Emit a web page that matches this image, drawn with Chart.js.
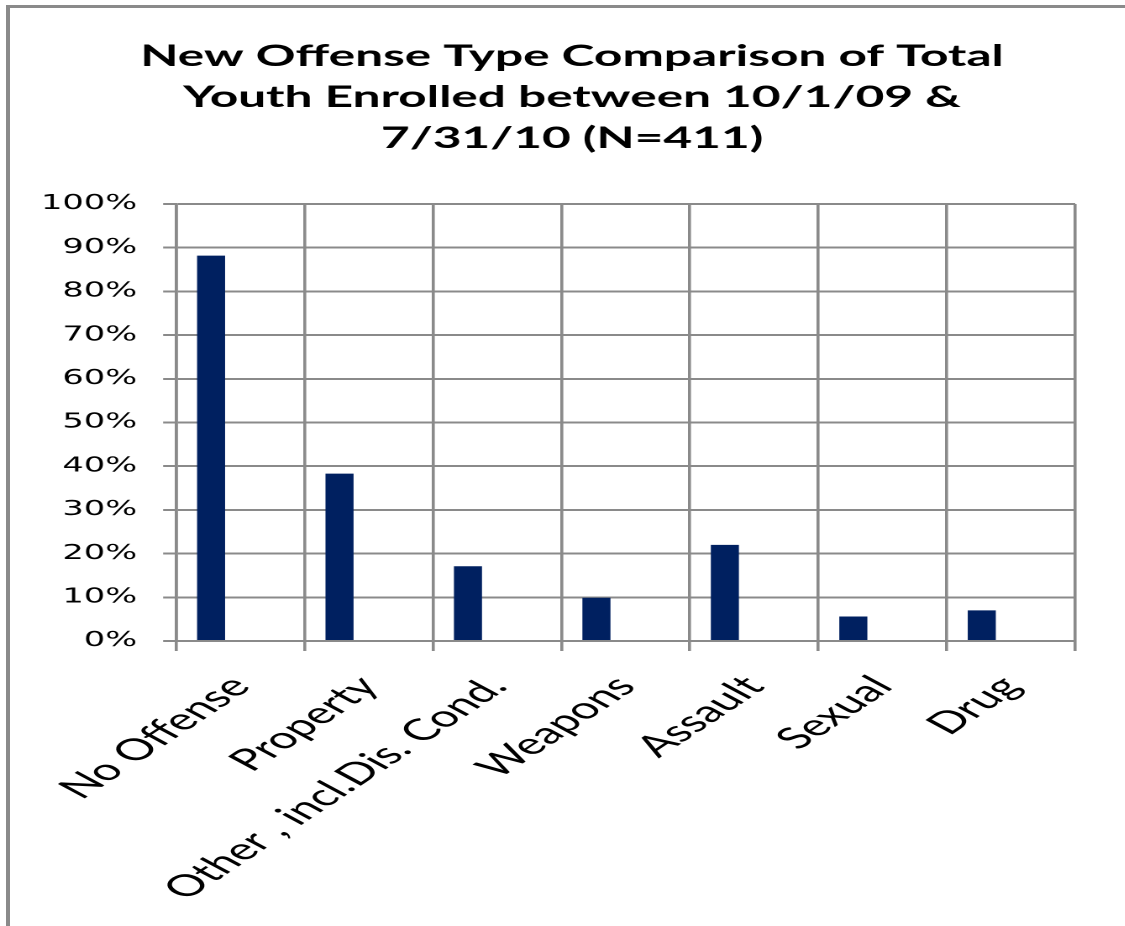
<!DOCTYPE html>
<html>
<head>
<meta charset="utf-8">
<script src="https://cdn.jsdelivr.net/npm/chart.js@4.4.0/dist/chart.umd.min.js"></script>
<style>
  body { margin: 0; background: #fff; }
  #wrap { position: relative; width: 1125px; height: 926px; overflow: hidden; background: #fff; }
  #frame {
    position: absolute; left: 6px; top: 5px; width: 1200px; height: 1000px;
    border-left: 4px solid #8a8a8a; border-top: 3px solid #8a8a8a;
  }
  #chart { position: absolute; left: 0; top: 0; transform: scaleX(1.68); transform-origin: 0 0; }
</style>
</head>
<body>
<div id="wrap">
  <div id="frame"></div>
  <canvas id="chart" width="670" height="926" style="width:670px;height:926px"></canvas>
</div>
<script>
// the original picture is stretched sideways, so the chart is drawn narrow and scaled in x
const categories = ['No Offense', 'Property', 'Other , incl.Dis. Cond.', 'Weapons', 'Assault', 'Sexual', 'Drug']
const offensePct = [88.2, 38.3, 17.1, 9.9, 22.0, 5.6, 7.0]
const emptySeries = [null, null, null, null, null, null, null]
const yTicks = [0, 10, 20, 30, 40, 50, 60, 70, 80, 90, 100]
const titleLines = ['New Offense Type Comparison of Total', 'Youth Enrolled between 10/1/09 &', '7/31/10 (N=411)']

const gridColor = '#8a8a8a'

// y labels stick out past the (narrowed) axis box, so don't let the scale clip them
const yLabelRoom = {
  id: 'yLabelRoom',
  afterLayout: (chart) => { chart.scales.y.left = 0 }
}

new Chart('chart', {
  type: 'bar',
  data: {
    labels: categories,
    datasets: [{
      label: 'Youth',
      data: offensePct,
      backgroundColor: '#002060',
      borderWidth: 0,
      categoryPercentage: 0.91,
      barPercentage: 0.48
    }, {
      label: '',
      data: emptySeries,
      backgroundColor: '#002060',
      categoryPercentage: 0.91,
      barPercentage: 0.48
    }]
  },
  options: {
    responsive: false,
    animation: false,
    devicePixelRatio: 2,
    layout: {
      padding: { left: 41, right: 30, top: 0, bottom: 0 }
    },
    plugins: {
      legend: { display: false },
      tooltip: { enabled: false },
      title: {
        display: true,
        text: titleLines,
        color: '#000',
        font: { family: 'Lato', weight: 'bold', size: 29.5, lineHeight: 1.39 },
        padding: { top: 36, bottom: 45 }
      }
    },
    scales: {
      x: {
        grid: { color: gridColor, lineWidth: 1.8, tickLength: 10, offset: true },
        border: { color: gridColor, width: 2 },
        ticks: {
          color: '#000',
          font: { family: 'Lato', size: 30 },
          maxRotation: 48,
          minRotation: 48,
          autoSkip: false,
          padding: 18
        },
        afterFit: (scale) => { scale.height = 285 }
      },
      y: {
        min: 0,
        max: 100,
        afterBuildTicks: (scale) => { scale.ticks = yTicks.map(v => ({ value: v })) },
        grid: { color: gridColor, lineWidth: 2, tickLength: 7.7 },
        border: { color: gridColor, width: 1.8 },
        ticks: {
          color: '#000',
          font: { family: 'DejaVu Sans', size: 20 },
          padding: 15.5,
          callback: (v) => v + '%'
        },
        afterFit: (scale) => { scale.width = 63.8 }
      }
    }
  },
  plugins: [yLabelRoom]
})
</script>
</body>
</html>
